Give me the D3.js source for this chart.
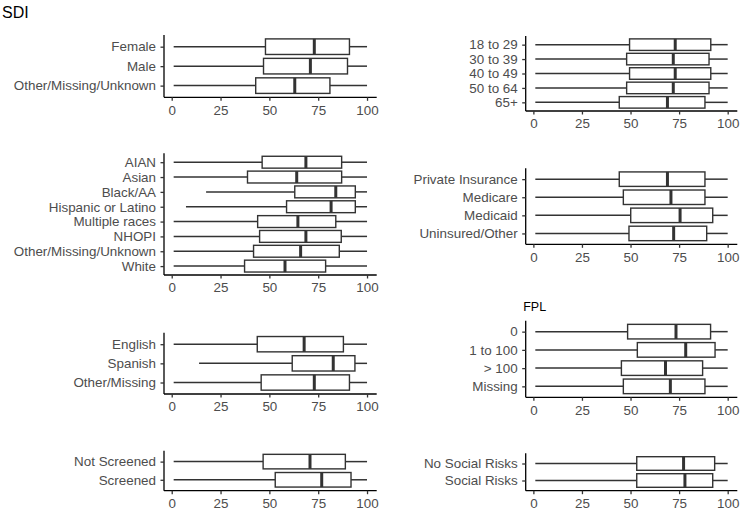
<!DOCTYPE html>
<html>
<head>
<meta charset="utf-8">
<script src="https://cdn.jsdelivr.net/npm/d3@7"></script>
<style>
  html, body { margin: 0; padding: 0; background: #fff; }
  svg { display: block; font-family: "Liberation Sans", Arial, sans-serif; }
</style>
</head>
<body>
<svg id="chart" width="743" height="514"></svg>
<script>
// ---- Data: [whiskerLow, Q1, median, Q3, whiskerHigh] ----
const xTicks = [0, 25, 50, 75, 100];

const sexLabels = ["Female", "Male", "Other/Missing/Unknown"];
const sexStats = [[1, 48, 73, 91, 100], [1, 47, 71, 90, 100], [1, 43, 63, 81, 100]];

const ageLabels = ["18 to 29", "30 to 39", "40 to 49", "50 to 64", "65+"];
const ageStats = [[1, 49.5, 73, 91.3, 100], [1, 48, 72, 90.4, 100], [1, 49.5, 73, 91.3, 100],
                  [1, 48, 72, 90.4, 100], [1, 44.2, 69, 88.3, 100]];

const raceLabels = ["AIAN", "Asian", "Black/AA", "Hispanic or Latino", "Multiple races", "NHOPI",
                    "Other/Missing/Unknown", "White"];
const raceStats = [[1, 46.3, 68.7, 87, 100], [1, 38.8, 64, 87, 100], [17.6, 63, 84, 94, 100],
                   [7.3, 58.8, 81.6, 94, 100], [1, 44, 64.6, 84, 100], [1, 45, 68.7, 86.8, 100],
                   [1, 41.9, 66, 85.8, 100], [1, 37.3, 58, 78.8, 100]];

const insLabels = ["Private Insurance", "Medicare", "Medicaid", "Uninsured/Other"];
const insStats = [[1, 44.2, 69, 88.3, 100], [1, 46.3, 70.8, 88.3, 100], [1, 50.1, 75.5, 92.3, 100],
                  [1, 49.2, 72.2, 89.2, 100]];

const langLabels = ["English", "Spanish", "Other/Missing"];
const langStats = [[1, 43.8, 67.8, 87.9, 100], [14, 61.7, 82.7, 93.8, 100], [1, 45.8, 73, 91, 100]];

const fplLabels = ["0", "1 to 100", "> 100", "Missing"];
const fplStats = [[1, 48.5, 73.4, 91.2, 100], [1, 53.5, 78.4, 93.5, 100], [1, 45.3, 68, 87.1, 100],
                  [1, 46.3, 70.5, 88.3, 100]];

const screenLabels = ["Not Screened", "Screened"];
const screenStats = [[1, 46.8, 70.8, 88.9, 100], [1, 53, 76.8, 91.8, 100]];

const riskLabels = ["No Social Risks", "Social Risks"];
const riskStats = [[1, 53.2, 77.3, 93.3, 100], [1, 53.2, 78, 92.3, 100]];

const titleMain = "SDI";
const titleFPL = "FPL";

// ---- Layout ----
const LEFT = { x0: 164, x1: 376.7 };
const RIGHT = { x0: 525.7, x1: 737.3 };
const panels = [
  { labels: sexLabels, stats: sexStats, col: LEFT, top: 35, bottom: 97.3 },
  { labels: ageLabels, stats: ageStats, col: RIGHT, top: 36, bottom: 111 },
  { labels: raceLabels, stats: raceStats, col: LEFT, top: 153.3, bottom: 275 },
  { labels: insLabels, stats: insStats, col: RIGHT, top: 168.3, bottom: 244.3 },
  { labels: langLabels, stats: langStats, col: LEFT, top: 332.7, bottom: 394 },
  { labels: fplLabels, stats: fplStats, col: RIGHT, top: 320.7, bottom: 397.3, title: titleFPL },
  { labels: screenLabels, stats: screenStats, col: LEFT, top: 450.7, bottom: 490.7 },
  { labels: riskLabels, stats: riskStats, col: RIGHT, top: 453.3, bottom: 490.7 }
];

const svg = d3.select("#chart");
const textCol = "#4D4D4D";
const lineCol = "#333333";
const fontSize = "13.4px";

svg.append("text").attr("x", 2).attr("y", 12.5).attr("dy", "0.35em")
  .attr("font-size", "16px").attr("fill", "#000").text(titleMain);

panels.forEach(p => {
  const x = d3.scaleLinear().domain([-3.95, 104.95]).range([p.col.x0, p.col.x1]);
  const y = d3.scalePoint().domain(p.labels).range([p.top, p.bottom]).padding(0.6);
  const bh = y.step() * 0.8;
  const g = svg.append("g");

  // axes
  const xa = g.append("g").attr("transform", `translate(0,${p.bottom})`)
    .call(d3.axisBottom(x).tickValues(xTicks).tickSize(3.5).tickPadding(4.3));
  const ya = g.append("g").attr("transform", `translate(${p.col.x0},0)`)
    .call(d3.axisLeft(y).tickSize(3.5).tickPadding(4.5));
  [xa, ya].forEach(a => {
    a.select(".domain").attr("stroke", "#000").attr("stroke-width", 1.3);
    a.selectAll(".tick line").attr("stroke", lineCol).attr("stroke-width", 1.3);
    a.selectAll(".tick text").attr("fill", textCol).attr("font-size", fontSize)
      .attr("font-family", "Liberation Sans, Arial, sans-serif");
  });
  xa.select(".domain").attr("d", `M${p.col.x0},0H${p.col.x1}`);
  ya.select(".domain").attr("d", `M0,${p.top}V${p.bottom}`);

  // boxes
  const rows = g.selectAll("g.box").data(p.labels.map((l, i) => ({ l, s: p.stats[i] })))
    .enter().append("g").attr("class", "box");
  rows.append("line")
    .attr("x1", d => x(d.s[0])).attr("x2", d => x(d.s[1]))
    .attr("y1", d => y(d.l)).attr("y2", d => y(d.l))
    .attr("stroke", lineCol).attr("stroke-width", 1.5);
  rows.append("line")
    .attr("x1", d => x(d.s[3])).attr("x2", d => x(d.s[4]))
    .attr("y1", d => y(d.l)).attr("y2", d => y(d.l))
    .attr("stroke", lineCol).attr("stroke-width", 1.5);
  rows.append("rect")
    .attr("x", d => x(d.s[1])).attr("width", d => x(d.s[3]) - x(d.s[1]))
    .attr("y", d => y(d.l) - bh / 2).attr("height", bh)
    .attr("fill", "#fff").attr("stroke", lineCol).attr("stroke-width", 1.4);
  rows.append("line")
    .attr("x1", d => x(d.s[2])).attr("x2", d => x(d.s[2]))
    .attr("y1", d => y(d.l) - bh / 2).attr("y2", d => y(d.l) + bh / 2)
    .attr("stroke", lineCol).attr("stroke-width", 3);

  if (p.title) {
    svg.append("text").attr("x", p.col.x0 - 2.5).attr("y", p.top - 14.5).attr("dy", "0.35em")
      .attr("font-size", "12.5px").attr("fill", "#000").text(p.title);
  }
});
</script>
</body>
</html>
